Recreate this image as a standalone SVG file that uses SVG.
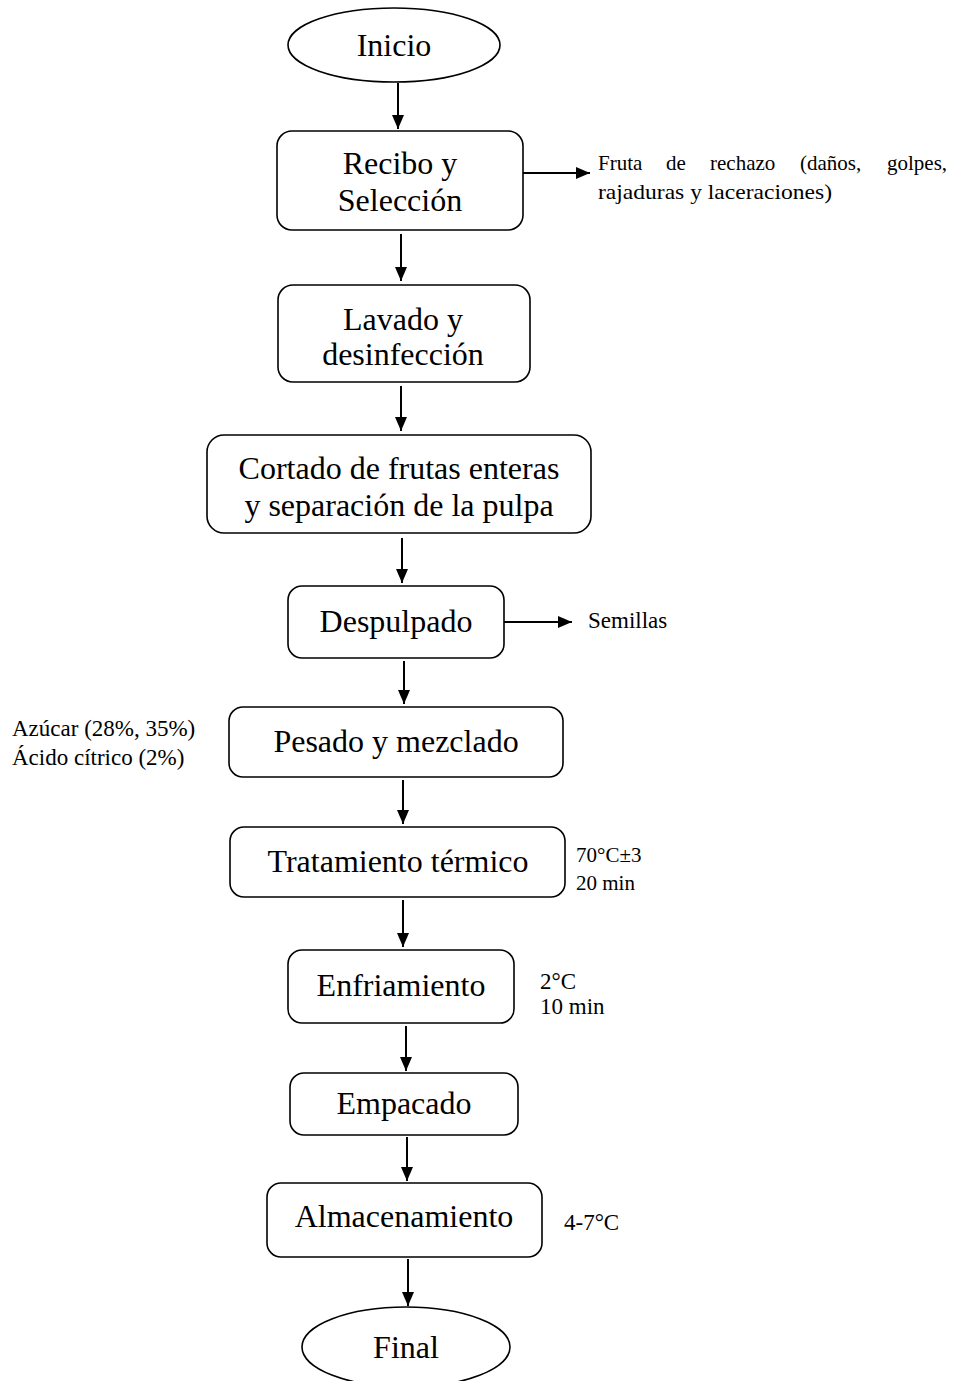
<svg xmlns="http://www.w3.org/2000/svg" width="955" height="1381" viewBox="0 0 955 1381">
<style>
.box{fill:#fff;stroke:#000;stroke-width:1.6}
.t{font-family:"Liberation Serif","Times New Roman",serif;font-size:32px;fill:#000;text-anchor:middle}
.s{font-family:"Liberation Serif","Times New Roman",serif;font-size:21px;fill:#000}
.m{font-family:"Liberation Serif","Times New Roman",serif;font-size:23px;fill:#000}
.c{stroke:#000;stroke-width:2;fill:none;marker-end:url(#ah)}
</style>
<defs>
<marker id="ah" viewBox="0 0 14 12" refX="14" refY="6" markerWidth="14" markerHeight="12" markerUnits="userSpaceOnUse" orient="auto">
<path d="M0,0 L14,6 L0,12 Z" fill="#000"/>
</marker>
</defs>
<rect width="955" height="1381" fill="#fff"/>
<g id="connectors">
<line class="c" x1="398" y1="83" x2="398" y2="129"/>
<line class="c" x1="523" y1="173" x2="590" y2="173"/>
<line class="c" x1="401" y1="234" x2="401" y2="281"/>
<line class="c" x1="401" y1="386" x2="401" y2="431"/>
<line class="c" x1="402" y1="538" x2="402" y2="583"/>
<line class="c" x1="504" y1="622" x2="572" y2="622"/>
<line class="c" x1="404" y1="661" x2="404" y2="704"/>
<line class="c" x1="403" y1="780" x2="403" y2="824"/>
<line class="c" x1="403" y1="900" x2="403" y2="947"/>
<line class="c" x1="406" y1="1026" x2="406" y2="1071"/>
<line class="c" x1="407" y1="1137" x2="407" y2="1181"/>
<line class="c" x1="408" y1="1259" x2="408" y2="1306"/>
</g>
<g id="inicio"><ellipse class="box" cx="394" cy="45" rx="106" ry="37"/><text class="t" x="394" y="56">Inicio</text></g>
<g id="recibo"><rect class="box" x="277" y="131" width="246" height="99" rx="15"/><text class="t" x="400" y="174">Recibo y</text><text class="t" x="400" y="211">Selección</text></g>
<g id="rechazo"><text class="s" font-size="22"><tspan x="598" y="170">Fruta</tspan><tspan x="666" y="170">de</tspan><tspan x="710" y="170">rechazo</tspan><tspan x="800" y="170">(daños,</tspan><tspan x="887" y="170">golpes,</tspan></text><text class="s" font-size="22" x="598" y="199" textLength="234" lengthAdjust="spacingAndGlyphs">rajaduras y laceraciones)</text></g>
<g id="lavado"><rect class="box" x="278" y="285" width="252" height="97" rx="15"/><text class="t" x="403" y="330">Lavado y</text><text class="t" x="403" y="365">desinfección</text></g>
<g id="cortado"><rect class="box" x="207" y="435" width="384" height="98" rx="17"/><text class="t" x="399" y="479">Cortado de frutas enteras</text><text class="t" x="399" y="516">y separación de la pulpa</text></g>
<g id="despulpado"><rect class="box" x="288" y="586" width="216" height="72" rx="14"/><text class="t" x="396" y="632">Despulpado</text></g>
<g id="semillas"><text class="m" x="588" y="628">Semillas</text></g>
<g id="pesado"><rect class="box" x="229" y="707" width="334" height="70" rx="14"/><text class="t" x="396" y="752">Pesado y mezclado</text></g>
<g id="azucar"><text class="m" x="12" y="736">Azúcar (28%, 35%)</text><text class="m" x="12" y="765">Ácido cítrico (2%)</text></g>
<g id="tratamiento"><rect class="box" x="230" y="827" width="335" height="70" rx="14"/><text class="t" x="398" y="872">Tratamiento térmico</text></g>
<g id="temp1"><text class="s" x="576" y="862">70°C±3</text><text class="s" x="576" y="890">20 min</text></g>
<g id="enfriamiento"><rect class="box" x="288" y="950" width="226" height="73" rx="14"/><text class="t" x="401" y="996">Enfriamiento</text></g>
<g id="temp2"><text class="m" x="540" y="989">2°C</text><text class="m" x="540" y="1014">10 min</text></g>
<g id="empacado"><rect class="box" x="290" y="1073" width="228" height="62" rx="14"/><text class="t" x="404" y="1114">Empacado</text></g>
<g id="almacenamiento"><rect class="box" x="267" y="1183" width="275" height="74" rx="14"/><text class="t" x="404" y="1227">Almacenamiento</text></g>
<g id="temp3"><text class="m" x="564" y="1230">4-7°C</text></g>
<g id="final"><ellipse class="box" cx="406" cy="1347" rx="104" ry="40"/><text class="t" x="406" y="1358">Final</text></g>
</svg>
